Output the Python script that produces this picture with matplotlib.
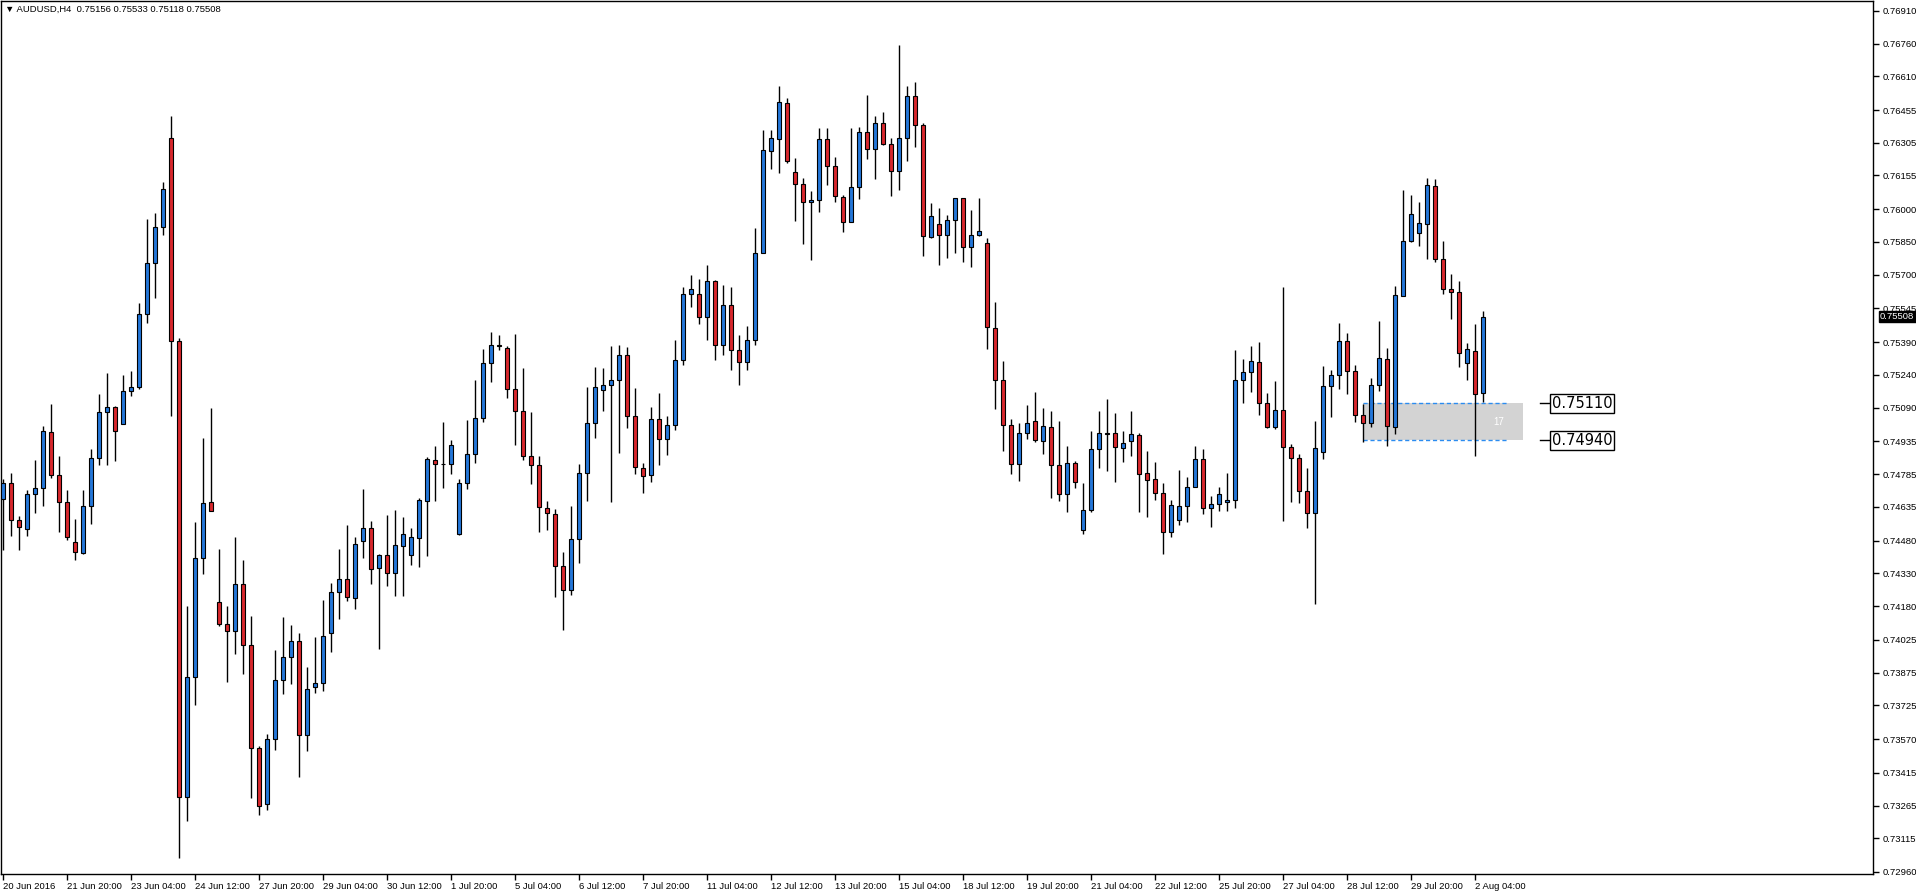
import numpy as np
import matplotlib
matplotlib.use("Agg")
import matplotlib.pyplot as plt
from matplotlib.patches import Rectangle

plt.rcParams['font.family'] = ['Liberation Sans', 'DejaVu Sans']

# AUDUSD H4 candles, oldest first
opens = [0.74670, 0.74746, 0.74574, 0.74535, 0.74696, 0.74721, 0.74978, 0.74780, 0.74657, 0.74475,
         0.74423, 0.74638, 0.74858, 0.75072, 0.75092, 0.75014, 0.75166, 0.75184, 0.75521, 0.75753,
         0.75921, 0.76329, 0.75398, 0.73306, 0.73856, 0.74402, 0.74657, 0.74200, 0.74097, 0.74067,
         0.74280, 0.74001, 0.73528, 0.73271, 0.73569, 0.73842, 0.73948, 0.74021, 0.73590, 0.73810,
         0.73826, 0.74055, 0.74243, 0.74303, 0.74216, 0.74477, 0.74537, 0.74353, 0.74413, 0.74330,
         0.74454, 0.74413, 0.74491, 0.74661, 0.74849, 0.74830, 0.74830, 0.74509, 0.74743, 0.74876,
         0.75041, 0.75294, 0.75376, 0.75362, 0.75174, 0.75073, 0.74867, 0.74826, 0.74628, 0.74601,
         0.74362, 0.74252, 0.74486, 0.74789, 0.75018, 0.75170, 0.75193, 0.75216, 0.75330, 0.75050,
         0.74812, 0.74780, 0.75037, 0.74946, 0.75011, 0.75309, 0.75610, 0.75610, 0.75505, 0.75670,
         0.75378, 0.75560, 0.75355, 0.75300, 0.75400, 0.75798, 0.76266, 0.76321, 0.76486, 0.76170,
         0.76115, 0.76032, 0.76041, 0.76321, 0.76197, 0.76055, 0.75940, 0.76101, 0.76353, 0.76275,
         0.76394, 0.76298, 0.76174, 0.76326, 0.76518, 0.76385, 0.75872, 0.75931, 0.75881, 0.75950,
         0.76050, 0.75826, 0.75881, 0.75844, 0.75454, 0.75216, 0.75009, 0.74830, 0.74972, 0.75027,
         0.74936, 0.75000, 0.74826, 0.74693, 0.74835, 0.74527, 0.74619, 0.74899, 0.74972, 0.74972,
         0.74904, 0.74936, 0.74963, 0.74789, 0.74761, 0.74697, 0.74518, 0.74573, 0.74638, 0.74725,
         0.74853, 0.74628, 0.74647, 0.74656, 0.74665, 0.75216, 0.75252, 0.75298, 0.75110, 0.75000,
         0.75078, 0.74908, 0.74858, 0.74706, 0.74606, 0.74885, 0.75188, 0.75238, 0.75394, 0.75257,
         0.75055, 0.75018, 0.75193, 0.75312, 0.75003, 0.75601, 0.75853, 0.75890, 0.75931, 0.76105,
         0.75773, 0.75633, 0.75619, 0.75294, 0.75349, 0.75156]
highs = [0.74764, 0.74792, 0.74592, 0.74712, 0.74849, 0.75005, 0.75109, 0.74868, 0.74712, 0.74579,
         0.74712, 0.74900, 0.75154, 0.75251, 0.75099, 0.75242, 0.75260, 0.75570, 0.75957, 0.75985,
         0.76127, 0.76428, 0.75411, 0.74182, 0.74565, 0.74953, 0.75090, 0.74443, 0.74182, 0.74496,
         0.74393, 0.74136, 0.73539, 0.73592, 0.73978, 0.74131, 0.74095, 0.74058, 0.73902, 0.74040,
         0.74209, 0.74286, 0.74440, 0.74550, 0.74495, 0.74716, 0.74569, 0.74417, 0.74596, 0.74619,
         0.74587, 0.74537, 0.74674, 0.74862, 0.74913, 0.75023, 0.74940, 0.74761, 0.75032, 0.75216,
         0.75358, 0.75436, 0.75422, 0.75372, 0.75428, 0.75271, 0.75069, 0.74867, 0.74661, 0.74624,
         0.74427, 0.74638, 0.74830, 0.75183, 0.75275, 0.75271, 0.75372, 0.75376, 0.75367, 0.75179,
         0.74835, 0.75092, 0.75156, 0.75052, 0.75400, 0.75644, 0.75697, 0.75679, 0.75743, 0.75674,
         0.75651, 0.75642, 0.75423, 0.75465, 0.75913, 0.76364, 0.76364, 0.76564, 0.76509, 0.76234,
         0.76142, 0.76083, 0.76372, 0.76372, 0.76238, 0.76064, 0.76372, 0.76376, 0.76523, 0.76427,
         0.76445, 0.76326, 0.76754, 0.76564, 0.76583, 0.76394, 0.76028, 0.76005, 0.75972, 0.76050,
         0.76050, 0.75997, 0.76050, 0.75867, 0.75573, 0.75303, 0.75037, 0.75018, 0.75101, 0.75160,
         0.75087, 0.75073, 0.75027, 0.74913, 0.74844, 0.74744, 0.74983, 0.75075, 0.75130, 0.75064,
         0.74982, 0.75073, 0.74972, 0.74890, 0.74839, 0.74743, 0.74665, 0.74803, 0.74771, 0.74913,
         0.74899, 0.74683, 0.74725, 0.74789, 0.75353, 0.75312, 0.75372, 0.75390, 0.75156, 0.75211,
         0.75644, 0.74922, 0.74876, 0.74812, 0.75027, 0.75280, 0.75261, 0.75477, 0.75431, 0.75284,
         0.75105, 0.75225, 0.75486, 0.75362, 0.75647, 0.76087, 0.76064, 0.76032, 0.76142, 0.76138,
         0.75853, 0.75702, 0.75670, 0.75385, 0.75472, 0.75533]
lows = [0.74436, 0.74501, 0.74436, 0.74501, 0.74606, 0.74641, 0.74769, 0.74521, 0.74482, 0.74391,
        0.74418, 0.74556, 0.74829, 0.74829, 0.74847, 0.75014, 0.75143, 0.75177, 0.75480, 0.75595,
        0.75882, 0.75051, 0.73026, 0.73193, 0.73725, 0.74326, 0.74618, 0.74088, 0.73833, 0.73962,
        0.73870, 0.73299, 0.73221, 0.73244, 0.73519, 0.73778, 0.73824, 0.73395, 0.73514, 0.73783,
        0.73792, 0.73969, 0.74119, 0.74205, 0.74165, 0.74399, 0.74283, 0.73982, 0.74271, 0.74225,
        0.74225, 0.74367, 0.74361, 0.74411, 0.74661, 0.74723, 0.74787, 0.74505, 0.74718, 0.74838,
        0.75026, 0.75209, 0.75353, 0.75136, 0.74920, 0.74851, 0.74741, 0.74521, 0.74530, 0.74220,
        0.74072, 0.74229, 0.74379, 0.74663, 0.74952, 0.75076, 0.74659, 0.74884, 0.74998, 0.74784,
        0.74700, 0.74750, 0.74826, 0.74873, 0.74988, 0.75286, 0.75550, 0.75472, 0.75400, 0.75309,
        0.75332, 0.75263, 0.75194, 0.75263, 0.75378, 0.75798, 0.76186, 0.76168, 0.76214, 0.75948,
        0.75842, 0.75769, 0.75989, 0.76113, 0.76035, 0.75897, 0.75940, 0.76049, 0.76232, 0.76140,
        0.76294, 0.76062, 0.76090, 0.76223, 0.76287, 0.75787, 0.75867, 0.75743, 0.75775, 0.75798,
        0.75760, 0.75737, 0.75876, 0.75361, 0.75083, 0.74893, 0.74784, 0.74752, 0.74945, 0.74931,
        0.74876, 0.74674, 0.74661, 0.74610, 0.74720, 0.74509, 0.74610, 0.74812, 0.74798, 0.74748,
        0.74839, 0.74867, 0.74610, 0.74587, 0.74665, 0.74417, 0.74495, 0.74550, 0.74564, 0.74725,
        0.74601, 0.74541, 0.74615, 0.74615, 0.74628, 0.75110, 0.75160, 0.75055, 0.74995, 0.74991,
        0.74569, 0.74659, 0.74651, 0.74539, 0.74191, 0.74853, 0.75049, 0.75177, 0.75154, 0.75023,
        0.74931, 0.75000, 0.75168, 0.74916, 0.74971, 0.75601, 0.75849, 0.75833, 0.75773, 0.75760,
        0.75610, 0.75495, 0.75275, 0.75216, 0.74867, 0.75118]
closes = [0.74746, 0.74574, 0.74544, 0.74696, 0.74721, 0.74982, 0.74780, 0.74657, 0.74496, 0.74430,
          0.74638, 0.74858, 0.75072, 0.75095, 0.74985, 0.75168, 0.75184, 0.75521, 0.75753, 0.75921,
          0.76093, 0.75398, 0.73306, 0.73856, 0.74402, 0.74652, 0.74618, 0.74097, 0.74065, 0.74280,
          0.74001, 0.73528, 0.73264, 0.73569, 0.73842, 0.73948, 0.74021, 0.73590, 0.73801, 0.73826,
          0.74042, 0.74243, 0.74303, 0.74220, 0.74463, 0.74537, 0.74349, 0.74413, 0.74330, 0.74459,
          0.74509, 0.74495, 0.74665, 0.74853, 0.74830, 0.74830, 0.74917, 0.74743, 0.74876, 0.75041,
          0.75294, 0.75376, 0.75372, 0.75174, 0.75073, 0.74867, 0.74826, 0.74633, 0.74606, 0.74362,
          0.74252, 0.74486, 0.74789, 0.75018, 0.75183, 0.75193, 0.75216, 0.75330, 0.75053, 0.74817,
          0.74775, 0.75037, 0.74945, 0.75011, 0.75309, 0.75610, 0.75633, 0.75505, 0.75670, 0.75378,
          0.75560, 0.75355, 0.75300, 0.75400, 0.75798, 0.76271, 0.76326, 0.76491, 0.76220, 0.76115,
          0.76032, 0.76041, 0.76321, 0.76197, 0.76060, 0.75940, 0.76101, 0.76353, 0.76275, 0.76394,
          0.76298, 0.76174, 0.76326, 0.76518, 0.76385, 0.75876, 0.75968, 0.75881, 0.75950, 0.76050,
          0.75826, 0.75881, 0.75900, 0.75459, 0.75216, 0.75009, 0.74830, 0.74972, 0.75018, 0.74940,
          0.75005, 0.74826, 0.74693, 0.74835, 0.74748, 0.74619, 0.74899, 0.74972, 0.74970, 0.74908,
          0.74927, 0.74968, 0.74784, 0.74757, 0.74697, 0.74518, 0.74642, 0.74638, 0.74725, 0.74853,
          0.74628, 0.74647, 0.74693, 0.74665, 0.75216, 0.75252, 0.75303, 0.75110, 0.75000, 0.75078,
          0.74908, 0.74858, 0.74706, 0.74606, 0.74904, 0.75188, 0.75238, 0.75394, 0.75257, 0.75055,
          0.75018, 0.75193, 0.75316, 0.75007, 0.75605, 0.75853, 0.75977, 0.75936, 0.76110, 0.75773,
          0.75633, 0.75619, 0.75339, 0.75358, 0.75151, 0.75508]

price_ticks = [0.76910, 0.76760, 0.76610, 0.76455, 0.76305, 0.76155, 0.76000, 0.75850, 0.75700,
               0.75545, 0.75390, 0.75240, 0.75090, 0.74935, 0.74785, 0.74635, 0.74480, 0.74330,
               0.74180, 0.74025, 0.73875, 0.73725, 0.73570, 0.73415, 0.73265, 0.73115, 0.72960]

date_labels = ["20 Jun 2016", "21 Jun 20:00", "23 Jun 04:00", "24 Jun 12:00", "27 Jun 20:00",
               "29 Jun 04:00", "30 Jun 12:00", "1 Jul 20:00", "5 Jul 04:00", "6 Jul 12:00",
               "7 Jul 20:00", "11 Jul 04:00", "12 Jul 12:00", "13 Jul 20:00", "15 Jul 04:00",
               "18 Jul 12:00", "19 Jul 20:00", "21 Jul 04:00", "22 Jul 12:00", "25 Jul 20:00",
               "27 Jul 04:00", "28 Jul 12:00", "29 Jul 20:00", "2 Aug 04:00"]
date_bars = [0, 8, 16, 24, 32, 40, 48, 56, 64, 72, 80, 88, 96, 104, 112, 120, 128, 136, 144,
             152, 160, 168, 176, 184]

zone_top = 0.75110
zone_bottom = 0.74940
zone_count = "17"
title = "\u25bc AUDUSD,H4  0.75156 0.75533 0.75118 0.75508"

blue = "#2477d9"
red = "#d8282d"

W, H = 1916, 896
fig = plt.figure(figsize=(W / 100, H / 100), dpi=100)
ax = fig.add_axes([1 / W, (H - 874) / H, 1872 / W, 873 / H])

o = np.array(opens)
c = np.array(closes)
idx = np.arange(len(o))
cols = [blue if cc >= oo else red for oo, cc in zip(o, c)]

ax.add_patch(Rectangle((170, zone_bottom), 20, zone_top - zone_bottom,
                       facecolor="#d3d3d3", edgecolor="none", zorder=1))
for lvl in (zone_top, zone_bottom):
    ax.plot([170, 188], [lvl, lvl], color="#2b8cf0", lw=1, dashes=(3, 2), zorder=1.5)
    ax.plot([192.1, 193.5], [lvl, lvl], color="black", lw=1, zorder=4)
    ax.text(193.6, lvl, f"{lvl:.5f}", fontsize=10.5, family=["DejaVu Sans"], va="center", ha="left",
            bbox=dict(boxstyle="square,pad=0.12", facecolor="white", edgecolor="black", lw=1), zorder=5)
ax.text(187, (zone_top + zone_bottom) / 2, zone_count, color="white", fontsize=7,
        ha="center", va="center", zorder=1.6)

ax.vlines(idx, lows, highs, color="black", lw=1, zorder=2)
ax.bar(idx, np.abs(c - o), bottom=np.minimum(o, c), width=0.6, color=cols,
       edgecolor="black", linewidth=0.8, zorder=3)

ax.set_xlim(-0.25, 233.75)
ax.set_ylim(0.7696 - 874 / 21800, 0.7696 - 1 / 21800)

ax.yaxis.tick_right()
ax.set_yticks(price_ticks)
ax.set_yticklabels([f"{p:.5f}" for p in price_ticks])
ax.set_xticks(date_bars)
ax.set_xticklabels(date_labels)
for lbl in ax.get_xticklabels():
    lbl.set_ha("left")
ax.tick_params(axis="both", direction="out", length=4, width=1, labelsize=6.8, pad=2)
ax.tick_params(axis="y", pad=3)
for s in ax.spines.values():
    s.set_linewidth(1)
    s.set_color("black")

last = closes[-1]
ax.annotate(f"{last:.5f}", xy=(1.0, last), xycoords=("axes fraction", "data"),
            xytext=(5, 0), textcoords="offset points", fontsize=6.8, color="white",
            va="center", ha="left", annotation_clip=False,
            bbox=dict(boxstyle="square,pad=0.15", facecolor="black", edgecolor="black"))

fig.text(5 / W, 1 - 9 / H, title, fontsize=6.8, va="center", ha="left")

fig.savefig("out.png", dpi=100)
